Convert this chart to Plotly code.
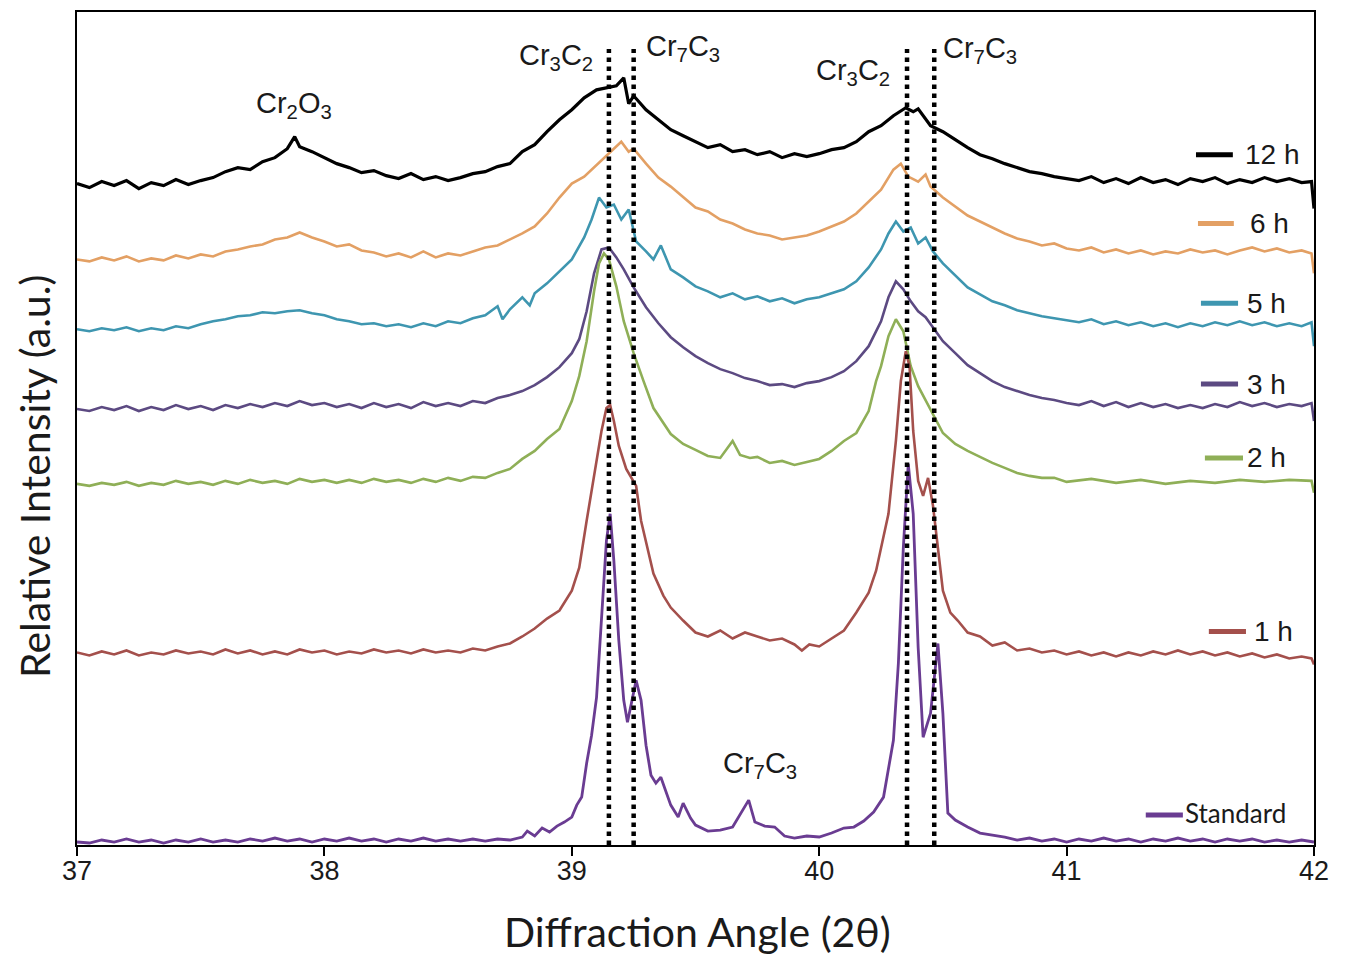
import plotly.graph_objects as go

# ---- data: diffraction angle (2theta) vs relative intensity (a.u., stacked) ----
pts_12h = [(37.00,663),(37.05,659),(37.10,665),(37.15,661),(37.20,666),(37.25,658),(37.30,664),(37.35,661),(37.40,667),(37.45,662),
    (37.50,666),(37.55,669),(37.60,675),(37.65,679),(37.70,677),(37.75,685),(37.80,689),(37.85,698),(37.88,710),
    (37.90,700),(37.95,695),(38.00,689),(38.05,683),(38.10,679),(38.15,674),(38.20,676),(38.25,671),(38.30,668),(38.35,673),
    (38.40,667),(38.45,670),(38.50,666),(38.55,669),(38.60,673),(38.65,675),(38.70,680),(38.75,683),(38.80,695),(38.85,702),
    (38.90,715),(38.95,727),(39.00,737),(39.05,749),(39.10,757),(39.15,759),(39.18,761),(39.21,769),(39.23,743),
    (39.25,751),(39.30,737),(39.35,727),(39.40,717),(39.45,711),(39.50,705),(39.55,699),(39.60,702),(39.65,695),(39.70,697),
    (39.75,692),(39.80,695),(39.85,689),(39.90,693),(39.95,690),(40.00,693),(40.05,697),(40.10,699),(40.15,705),(40.20,715),
    (40.25,721),(40.30,731),(40.35,739),(40.38,735),(40.40,738),(40.45,721),(40.50,715),(40.55,707),(40.60,699),(40.65,692),
    (40.70,688),(40.75,683),(40.80,679),(40.85,675),(40.90,673),(40.95,670),(41.00,668),(41.05,666),(41.10,670),(41.15,664),
    (41.20,668),(41.25,663),(41.30,669),(41.35,664),(41.40,667),(41.45,662),(41.50,668),(41.55,665),(41.60,669),(41.65,663),
    (41.70,667),(41.75,664),(41.80,669),(41.85,665),(41.90,668),(41.95,664),(41.99,665),(42.00,638)]

pts_6h = [(37.00,587),(37.05,585),(37.10,589),(37.15,586),(37.20,590),(37.25,585),(37.30,588),(37.35,586),(37.40,591),(37.45,588),
    (37.50,592),(37.55,590),(37.60,595),(37.65,597),(37.70,600),(37.75,602),(37.80,607),(37.85,609),(37.90,614),(37.95,609),
    (38.00,605),(38.05,600),(38.10,602),(38.15,596),(38.20,594),(38.25,590),(38.30,593),(38.35,589),(38.40,595),(38.45,589),
    (38.50,593),(38.55,591),(38.60,595),(38.65,599),(38.70,601),(38.75,607),(38.80,613),(38.85,620),(38.90,633),(38.95,649),
    (39.00,663),(39.05,670),(39.10,682),(39.15,693),(39.20,705),(39.23,695),(39.25,698),(39.30,683),(39.35,669),(39.40,660),
    (39.45,649),(39.50,639),(39.55,635),(39.60,627),(39.65,623),(39.70,617),(39.75,613),(39.80,611),(39.85,607),(39.90,609),
    (39.95,611),(40.00,615),(40.05,620),(40.10,625),(40.15,633),(40.20,645),(40.25,657),(40.30,677),(40.33,683),(40.36,670),
    (40.40,665),(40.43,672),(40.45,660),(40.50,649),(40.55,640),(40.60,631),(40.65,625),(40.70,619),(40.75,613),(40.80,608),
    (40.85,605),(40.90,601),(40.95,603),(41.00,598),(41.05,596),(41.10,599),(41.15,594),(41.20,597),(41.25,593),(41.30,596),
    (41.35,592),(41.40,595),(41.45,593),(41.50,597),(41.55,594),(41.60,596),(41.65,592),(41.70,596),(41.75,599),(41.80,595),
    (41.85,598),(41.90,594),(41.95,596),(41.99,593),(42.00,573)]

pts_5h = [(37.00,517),(37.05,515),(37.10,518),(37.15,516),(37.20,519),(37.25,515),(37.30,518),(37.35,516),(37.40,520),(37.45,518),
    (37.50,522),(37.55,525),(37.60,527),(37.65,530),(37.70,531),(37.75,534),(37.80,533),(37.85,535),(37.90,536),(37.95,533),
    (38.00,531),(38.05,527),(38.10,525),(38.15,522),(38.20,523),(38.25,520),(38.30,522),(38.35,519),(38.40,523),(38.45,520),
    (38.50,525),(38.55,523),(38.60,528),(38.65,531),(38.70,540),(38.72,527),(38.75,537),(38.80,549),(38.83,541),(38.85,553),
    (38.90,563),(38.95,575),(39.00,587),(39.05,609),(39.08,627),(39.11,649),(39.14,639),(39.17,642),(39.20,627),(39.23,637),
    (39.26,605),(39.30,595),(39.33,587),(39.36,601),(39.40,577),(39.45,569),(39.50,560),(39.55,555),(39.60,549),(39.65,553),
    (39.70,547),(39.75,550),(39.80,545),(39.85,548),(39.90,543),(39.95,547),(40.00,549),(40.05,553),(40.10,557),(40.15,565),
    (40.20,579),(40.25,597),(40.28,613),(40.31,625),(40.34,615),(40.37,619),(40.40,603),(40.43,609),(40.46,595),(40.50,583),
    (40.55,571),(40.60,559),(40.65,552),(40.70,545),(40.75,541),(40.80,536),(40.85,533),(40.90,530),(40.95,528),(41.00,526),
    (41.05,524),(41.10,527),(41.15,522),(41.20,525),(41.25,521),(41.30,524),(41.35,520),(41.40,523),(41.45,519),(41.50,523),
    (41.55,520),(41.60,524),(41.65,521),(41.70,525),(41.75,521),(41.80,524),(41.85,520),(41.90,523),(41.95,520),(41.99,524),
    (42.00,500)]

pts_3h = [(37.00,437),(37.05,435),(37.10,439),(37.15,436),(37.20,440),(37.25,435),(37.30,439),(37.35,436),(37.40,441),(37.45,437),
    (37.50,440),(37.55,436),(37.60,441),(37.65,438),(37.70,442),(37.75,439),(37.80,443),(37.85,440),(37.90,445),(37.95,441),
    (38.00,443),(38.05,439),(38.10,442),(38.15,438),(38.20,443),(38.25,439),(38.30,442),(38.35,438),(38.40,444),(38.45,440),
    (38.50,443),(38.55,440),(38.60,445),(38.65,443),(38.70,448),(38.75,451),(38.80,455),(38.85,461),(38.90,469),(38.95,479),
    (39.00,493),(39.03,507),(39.06,535),(39.09,573),(39.12,597),(39.15,599),(39.18,589),(39.21,577),(39.25,559),(39.30,539),
    (39.35,523),(39.40,509),(39.45,499),(39.50,490),(39.55,483),(39.60,477),(39.65,473),(39.70,468),(39.75,465),(39.80,461),
    (39.85,462),(39.90,459),(39.95,463),(40.00,465),(40.05,469),(40.10,475),(40.15,485),(40.20,500),(40.25,525),(40.28,549),
    (40.31,565),(40.34,557),(40.37,545),(40.40,535),(40.43,529),(40.46,519),(40.50,505),(40.55,493),(40.60,481),(40.65,473),
    (40.70,465),(40.75,459),(40.80,455),(40.85,451),(40.90,448),(40.95,446),(41.00,443),(41.05,441),(41.10,445),(41.15,440),
    (41.20,444),(41.25,439),(41.30,443),(41.35,439),(41.40,442),(41.45,438),(41.50,441),(41.55,438),(41.60,442),(41.65,439),
    (41.70,444),(41.75,440),(41.80,443),(41.85,439),(41.90,442),(41.95,440),(41.99,443),(42.00,425)]

pts_2h = [(37.00,362),(37.05,360),(37.10,363),(37.15,361),(37.20,364),(37.25,360),(37.30,363),(37.35,361),(37.40,365),(37.45,362),
    (37.50,364),(37.55,361),(37.60,365),(37.65,362),(37.70,366),(37.75,363),(37.80,365),(37.85,362),(37.90,367),(37.95,364),
    (38.00,366),(38.05,363),(38.10,366),(38.15,363),(38.20,367),(38.25,364),(38.30,366),(38.35,363),(38.40,367),(38.45,364),
    (38.50,368),(38.55,365),(38.60,369),(38.65,368),(38.70,373),(38.75,377),(38.80,387),(38.85,395),(38.90,407),(38.95,417),
    (39.00,445),(39.03,470),(39.06,505),(39.09,555),(39.11,583),(39.13,593),(39.15,587),(39.18,560),(39.21,525),(39.25,493),
    (39.29,465),(39.33,438),(39.40,412),(39.45,402),(39.50,396),(39.55,390),(39.60,388),(39.65,405),(39.68,391),(39.72,388),
    (39.75,389),(39.80,383),(39.85,385),(39.90,381),(39.95,384),(40.00,387),(40.05,395),(40.10,405),(40.15,413),(40.20,435),
    (40.23,465),(40.25,480),(40.28,510),(40.31,527),(40.34,515),(40.37,480),(40.40,460),(40.45,437),(40.50,413),(40.55,402),
    (40.60,395),(40.65,389),(40.70,383),(40.75,378),(40.80,373),(40.85,370),(40.90,368),(40.95,368),(41.00,364),(41.10,367),
    (41.20,363),(41.30,366),(41.40,362),(41.50,365),(41.60,363),(41.70,366),(41.80,364),(41.90,366),(41.99,365),(42.00,353)]

pts_1h = [(37.00,193),(37.05,190),(37.10,194),(37.15,191),(37.20,195),(37.25,190),(37.30,193),(37.35,191),(37.40,195),(37.45,192),
    (37.50,194),(37.55,191),(37.60,196),(37.65,192),(37.70,195),(37.75,191),(37.80,194),(37.85,191),(37.90,196),(37.95,193),
    (38.00,195),(38.05,191),(38.10,194),(38.15,192),(38.20,196),(38.25,193),(38.30,195),(38.35,192),(38.40,196),(38.45,193),
    (38.50,195),(38.55,193),(38.60,197),(38.65,195),(38.70,199),(38.75,202),(38.80,209),(38.85,217),(38.90,227),(38.95,235),
    (39.00,255),(39.03,278),(39.06,325),(39.08,355),(39.10,382),(39.12,415),(39.14,438),(39.155,441),(39.17,425),(39.19,400),
    (39.22,377),(39.24,369),(39.26,360),(39.28,325),(39.31,295),(39.33,272),(39.37,250),(39.40,238),(39.45,225),(39.50,213),
    (39.55,209),(39.60,215),(39.65,207),(39.70,213),(39.75,209),(39.80,205),(39.85,207),(39.90,201),(39.93,195),(39.96,201),
    (40.00,199),(40.05,207),(40.10,215),(40.15,233),(40.20,253),(40.23,275),(40.26,310),(40.28,332),(40.31,405),(40.33,465),
    (40.35,495),(40.365,480),(40.38,415),(40.40,365),(40.42,350),(40.44,368),(40.46,340),(40.48,295),(40.50,255),(40.53,233),
    (40.56,225),(40.60,213),(40.65,209),(40.70,200),(40.75,203),(40.80,195),(40.85,197),(40.90,193),(40.95,195),(41.00,191),
    (41.05,194),(41.10,190),(41.15,193),(41.20,189),(41.25,193),(41.30,190),(41.35,194),(41.40,191),(41.45,195),(41.50,191),
    (41.55,194),(41.60,190),(41.65,193),(41.70,189),(41.75,192),(41.80,188),(41.85,191),(41.90,187),(41.95,189),(41.99,187),
    (42.00,181)]

pts_std = [(37.00,3),(37.05,2),(37.10,5),(37.15,3),(37.20,6),(37.25,3),(37.30,5),(37.35,2),(37.40,5),(37.45,3),
    (37.50,6),(37.55,3),(37.60,5),(37.65,3),(37.70,6),(37.75,4),(37.80,7),(37.85,4),(37.90,6),(37.95,3),
    (38.00,6),(38.05,4),(38.10,7),(38.15,4),(38.20,6),(38.25,3),(38.30,6),(38.35,4),(38.40,7),(38.45,4),
    (38.50,6),(38.55,4),(38.60,6),(38.65,4),(38.70,6),(38.75,5),(38.80,8),(38.82,14),(38.85,9),(38.88,17),
    (38.91,13),(38.94,19),(38.97,23),(39.00,28),(39.02,40),(39.04,48),(39.06,82),(39.08,110),(39.10,148),(39.12,232),
    (39.14,305),(39.155,332),(39.17,285),(39.19,205),(39.21,145),(39.225,123),(39.24,140),(39.26,165),(39.28,145),(39.30,100),
    (39.32,70),(39.34,62),(39.36,68),(39.38,53),(39.40,40),(39.43,28),(39.45,42),(39.48,27),(39.50,20),(39.55,14),
    (39.60,15),(39.65,18),(39.68,30),(39.70,39),(39.715,45),(39.74,23),(39.78,19),(39.82,18),(39.86,9),(39.90,7),
    (39.95,9),(40.00,8),(40.05,12),(40.10,17),(40.14,18),(40.18,24),(40.22,33),(40.26,48),(40.28,75),(40.30,105),
    (40.32,182),(40.34,298),(40.36,382),(40.38,332),(40.40,198),(40.42,108),(40.45,132),(40.48,202),(40.50,132),(40.52,32),
    (40.55,25),(40.60,18),(40.65,12),(40.70,10),(40.75,8),(40.80,5),(40.85,7),(40.90,4),(40.95,6),(41.00,3),
    (41.05,6),(41.10,4),(41.15,7),(41.20,4),(41.25,6),(41.30,3),(41.35,6),(41.40,4),(41.45,7),(41.50,4),
    (41.55,6),(41.60,3),(41.65,6),(41.70,4),(41.75,6),(41.80,3),(41.85,5),(41.90,3),(41.95,5),(42.00,3)]

series_names = ["12 h", "6 h", "5 h", "3 h", "2 h", "1 h", "Standard"]
series_points = [pts_12h, pts_6h, pts_5h, pts_3h, pts_2h, pts_1h, pts_std]
series_colors = ["#000000", "#E3A064", "#3E96B0", "#5C4A82", "#8FAF57", "#A4504C", "#6A3C92"]
series_widths = [3.2, 2.6, 2.6, 2.6, 2.6, 2.6, 2.8]

ref_lines = [39.15, 39.25, 40.355, 40.465]          # reference peak positions
phase_labels = ["Cr<sub>3</sub>C<sub>2</sub>", "Cr<sub>7</sub>C<sub>3</sub>",
                "Cr<sub>3</sub>C<sub>2</sub>", "Cr<sub>7</sub>C<sub>3</sub>",
                "Cr<sub>2</sub>O<sub>3</sub>", "Cr<sub>7</sub>C<sub>3</sub>"]
tick_vals = [37, 38, 39, 40, 41, 42]

# ---- figure ----
fig = go.Figure()
for name, pts, col, w in zip(series_names, series_points, series_colors, series_widths):
    fig.add_trace(go.Scatter(x=[p[0] for p in pts], y=[p[1] for p in pts], mode="lines",
                             name=name, line=dict(color=col, width=w), showlegend=False))

shapes = []
for xv in ref_lines:
    shapes.append(dict(type="line", xref="x", yref="y", x0=xv, x1=xv, y0=0, y1=798,
                       line=dict(color="black", width=4.5, dash="4.5px,4.5px")))

# manual legend: (line x0, line x1, y, text x)
legend_pos = [(41.523, 41.672, 692, 41.713), (41.531, 41.676, 623, 41.735), (41.543, 41.693, 543, 41.722),
              (41.543, 41.693, 462, 41.722), (41.559, 41.713, 388, 41.722), (41.575, 41.725, 214, 41.750),
              (41.320, 41.470, 30, 41.470)]
annotations = []
for (lx0, lx1, ly, tx), name, col in zip(legend_pos, series_names, series_colors):
    shapes.append(dict(type="line", xref="x", yref="y", x0=lx0, x1=lx1, y0=ly, y1=ly,
                       line=dict(color=col, width=5)))
    is_std = name == "Standard"
    annotations.append(dict(x=tx, y=ly + (2 if is_std else 0), xref="x", yref="y", text=name, showarrow=False,
                            xanchor="left", yanchor="middle",
                            font=dict(family="Lato, sans-serif" if is_std else "Liberation Sans, Arial, sans-serif",
                                      size=26 if is_std else 28, color="#1a1a1a")))

label_pos = [(38.936, 790), (39.448, 799), (40.135, 775), (40.651, 797), (37.877, 742), (39.759, 80)]
for (lx, ly), txt in zip(label_pos, phase_labels):
    annotations.append(dict(x=lx, y=ly, xref="x", yref="y", text=txt, showarrow=False,
                            xanchor="center", yanchor="middle",
                            font=dict(family="Liberation Sans, Arial, sans-serif", size=29, color="#1a1a1a")))

# axis titles
annotations.append(dict(x=0.502, y=-0.104, xref="paper", yref="paper", text="Diffraction Angle (2θ)",
                        showarrow=False, xanchor="center", yanchor="middle",
                        font=dict(family="Lato, sans-serif", size=41, color="#1a1a1a")))
annotations.append(dict(x=-0.034, y=0.443, xref="paper", yref="paper", text="Relative Intensity (a.u.)",
                        showarrow=False, xanchor="center", yanchor="middle", textangle=-90,
                        font=dict(family="Lato, sans-serif", size=41, color="#1a1a1a")))

fig.update_layout(
    width=1338, height=948,
    margin=dict(l=69, r=32, t=2, b=111),
    paper_bgcolor="white", plot_bgcolor="white",
    shapes=shapes, annotations=annotations,
    showlegend=False,
    xaxis=dict(range=[37, 42], tickvals=tick_vals, ticks="outside", ticklen=9, tickwidth=1.5,
               tickcolor="black", showgrid=False, zeroline=False, showline=True, linecolor="black",
               linewidth=2, mirror=True, ticklabelstandoff=-8,
               tickfont=dict(family="Liberation Sans, Arial, sans-serif", size=27, color="#1a1a1a")),
    yaxis=dict(range=[0, 835], showticklabels=False, ticks="", showgrid=False, zeroline=False,
               showline=True, linecolor="black", linewidth=2, mirror=True),
)

fig.write_html("out.html")
